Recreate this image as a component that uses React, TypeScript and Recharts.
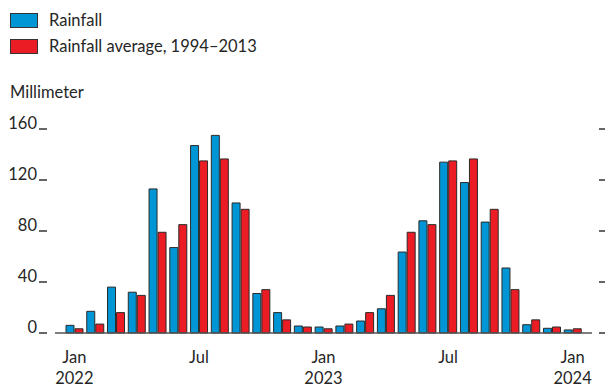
import { BarChart, Bar, XAxis, YAxis } from "recharts";

const months = [
  "Jan 2022", "Feb 2022", "Mar 2022", "Apr 2022", "May 2022", "Jun 2022",
  "Jul 2022", "Aug 2022", "Sep 2022", "Oct 2022", "Nov 2022", "Dec 2022",
  "Jan 2023", "Feb 2023", "Mar 2023", "Apr 2023", "May 2023", "Jun 2023",
  "Jul 2023", "Aug 2023", "Sep 2023", "Oct 2023", "Nov 2023", "Dec 2023",
  "Jan 2024",
];

const rainfall = [
  6, 17, 36, 32, 113, 67, 147, 155, 102, 31, 16, 5.5,
  4.7, 5.5, 9.4, 19, 63.5, 88, 134, 118, 87, 51, 6.5, 3.7,
  2.4,
];

const average = [
  3.3, 7, 16, 29.5, 79, 85, 135, 136.5, 97, 34, 10.3, 4.7,
  3.3, 7, 16, 29.5, 79, 85, 135, 136.5, 97, 34, 10.3, 4.7,
  3.3,
];

const yTicks = [0, 40, 80, 120, 160];

const BLUE = "#0096d6";
const RED = "#ec1c24";
const TEXT = "#262626";
const FONT = "Lato, 'Open Sans', sans-serif";
const FS = 16.5;

const data = months.map((m, i) => ({
  month: m,
  rainfall: rainfall[i],
  average: average[i],
}));

function YTick({ y, payload }: any) {
  return (
    <g>
      <text x={37} y={y} textAnchor="end" fontSize={FS} fill={TEXT} fontFamily={FONT}>
        {payload.value}
      </text>
      <line x1={39} x2={47} y1={y} y2={y} stroke="#333" strokeWidth={1.5} />
      <line x1={599} x2={605} y1={y} y2={y} stroke="#333" strokeWidth={1.5} />
    </g>
  );
}

function XTick({ x, payload }: any) {
  const [m, yr] = String(payload.value).split(" ");
  return (
    <g fontFamily={FONT} fontSize={FS} fill={TEXT}>
      <text x={x} y={363} textAnchor="middle">{m}</text>
      {m === "Jan" && (
        <text x={x} y={384} textAnchor="middle">{yr}</text>
      )}
    </g>
  );
}

function LegendRow({ color, label, top }: { color: string; label: string; top: number }) {
  return (
    <div style={{ position: "absolute", left: 10, top, display: "flex", alignItems: "flex-start" }}>
      <div
        style={{
          width: 26,
          height: 13,
          marginTop: 1,
          background: color,
          border: "1px solid #333",
        }}
      />
      <span style={{ marginLeft: 11, fontSize: FS, lineHeight: "16px", color: TEXT }}>{label}</span>
    </div>
  );
}

export default function App() {
  return (
    <div
      style={{
        position: "absolute",
        left: 0,
        top: 0,
        width: 605,
        height: 387,
        background: "#fff",
        fontFamily: FONT,
      }}
    >
      <LegendRow color={BLUE} label="Rainfall" top={12} />
      <LegendRow color={RED} label="Rainfall average, 1994–2013" top={38} />
      <div
        style={{
          position: "absolute",
          left: 10,
          top: 84,
          fontSize: FS,
          lineHeight: "16px",
          color: TEXT,
        }}
      >
        Millimeter
      </div>
      <BarChart
        width={605}
        height={387}
        data={data}
        margin={{ top: 129, right: 13, bottom: 24, left: 0 }}
        barCategoryGap={2}
        barGap={1}
      >
        <XAxis
          dataKey="month"
          height={30}
          interval={5}
          padding={{ left: 9, right: 9 }}
          tickLine={false}
          axisLine={{ stroke: "#555", strokeWidth: 1.6 }}
          tick={<XTick />}
        />
        <YAxis
          width={55}
          domain={[0, 160]}
          ticks={yTicks}
          axisLine={false}
          tickLine={false}
          tick={<YTick />}
        />
        <Bar
          dataKey="rainfall"
          fill={BLUE}
          stroke="#2a2a2a"
          strokeWidth={1}
          isAnimationActive={false}
        />
        <Bar
          dataKey="average"
          fill={RED}
          stroke="#2a2a2a"
          strokeWidth={1}
          isAnimationActive={false}
        />
      </BarChart>
    </div>
  );
}
